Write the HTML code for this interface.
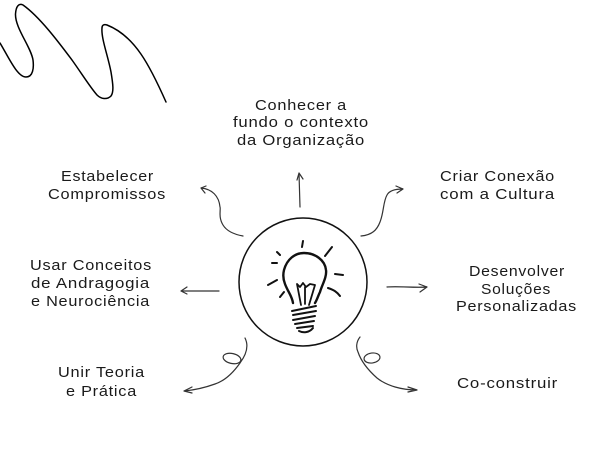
<!DOCTYPE html>
<html><head><meta charset="utf-8"><style>
html,body{margin:0;padding:0;background:#fff}
svg{display:block}
text{font-family:"Liberation Sans",sans-serif;font-size:15px;letter-spacing:.7px;fill:#1a1a1a}
</style></head><body>
<svg width="600" height="451" viewBox="0 0 600 451" xmlns="http://www.w3.org/2000/svg">
<rect width="600" height="451" fill="#fff"/>
<path d="M0 43C8 56 17 77 26 77C33 77 34 68 33 60C31 47 15 28 15.500 14C16 6 19 3 23 5C40 17 60 44 72 60C82 74 90 87 97 95C101 99 107 100 111 96C114 92 113 84 111 72C108 56 101 38 102 28C102 25 104 24 107 25C135 36 150 66 166 102" fill="none" stroke="#000" stroke-width="1.500" stroke-linecap="round"/>
<circle cx="303" cy="282" r="64" fill="none" stroke="#111" stroke-width="1.500"/>
<g fill="none" stroke="#333" stroke-width="1.200" stroke-linecap="round" stroke-linejoin="round">
<path d="M300 207L299 173M297 180L299 173L303 179"/>
<path d="M243 236C232 234 226 230 223 225C218 217 221 209 220 207C219 196 212 189 201 188M206 186L201 188L205 193"/>
<path d="M361 236C372 235 377 230 380 222C384 212 383 202 387 195C389 191 395 189 403 189M396 186L403 189L397 193"/>
<path d="M219 291L181 291M187 287L181 291L187 294"/>
<path d="M387 287C400 286 414 288 427 287M419 284L427 287L420 292"/>
<path d="M245 338C249 346 246 355 240 363C233 373 224 381 215 384C204 388 195 390 184 391M192 387L184 391L192 393"/>
<ellipse cx="232" cy="358.500" rx="9" ry="5" transform="rotate(12 232 358.500)"/>
<path d="M360 337C356 342 356 348 358 352C361 361 368 370 377 378C387 386 402 390 417 390M408 387L417 390L408 392"/>
<ellipse cx="372" cy="358" rx="8" ry="5" transform="rotate(-8 372 358)"/>
</g>
<g fill="none" stroke="#111" stroke-linecap="round" stroke-linejoin="round">
<path d="M293 303C292 296 288 292 285 284C283 279 283 274 284 270C287 259 295 253 304 253C315 253 325 260 326 270C327 277 322 285 320 292C318 296 317 300 315 303" stroke-width="2.400"/>
<path d="M297 284L301 305M315 285L309 305M297 284L300 287L303 283L306 287L310 284L315 285M305 287L305 304" stroke-width="1.800"/>
<path d="M292 311L316 306M293 315L316 311M293 320L315 316M295 324L314 321M297 328L313 326M299 331C303 333 309 333 313 328" stroke-width="2"/>
<path d="M303 241L302 247M332 247L325 256M277 252L280 255M272 263L277 263M335 274L343 275M268 285L277 280M328 288C334 290 337 292 340 296M280 297L284 292" stroke-width="2"/>
</g>
<g lengthAdjust="spacingAndGlyphs">
<text x="255" y="110" textLength="92" lengthAdjust="spacingAndGlyphs">Conhecer a</text>
<text x="233" y="127" textLength="136" lengthAdjust="spacingAndGlyphs">fundo o contexto</text>
<text x="237" y="145" textLength="128" lengthAdjust="spacingAndGlyphs">da Organização</text>
<text x="61" y="181" textLength="93" lengthAdjust="spacingAndGlyphs">Estabelecer</text>
<text x="48" y="199" textLength="118" lengthAdjust="spacingAndGlyphs">Compromissos</text>
<text x="440" y="181" textLength="115" lengthAdjust="spacingAndGlyphs">Criar Conexão</text>
<text x="440" y="199" textLength="115" lengthAdjust="spacingAndGlyphs">com a Cultura</text>
<text x="30" y="270" textLength="122" lengthAdjust="spacingAndGlyphs">Usar Conceitos</text>
<text x="31" y="288" textLength="119" lengthAdjust="spacingAndGlyphs">de Andragogia</text>
<text x="31" y="306" textLength="119" lengthAdjust="spacingAndGlyphs">e Neurociência</text>
<text x="469" y="276" textLength="96" lengthAdjust="spacingAndGlyphs">Desenvolver</text>
<text x="481" y="294" textLength="70" lengthAdjust="spacingAndGlyphs">Soluções</text>
<text x="456" y="311" textLength="121" lengthAdjust="spacingAndGlyphs">Personalizadas</text>
<text x="58" y="377" textLength="87" lengthAdjust="spacingAndGlyphs">Unir Teoria</text>
<text x="66" y="396" textLength="71" lengthAdjust="spacingAndGlyphs">e Prática</text>
<text x="457" y="388" textLength="101" lengthAdjust="spacingAndGlyphs">Co-construir</text>
</g>
</svg>
</body></html>
